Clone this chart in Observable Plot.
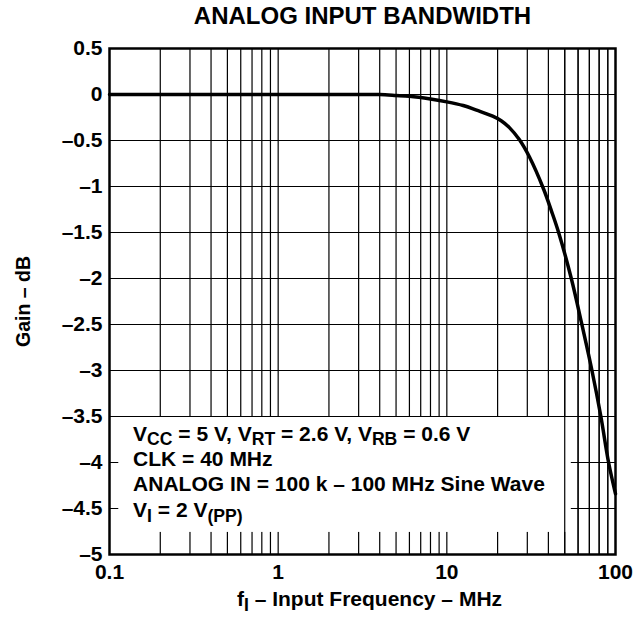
<!DOCTYPE html>
<html><head><meta charset="utf-8">
<script src="https://cdn.jsdelivr.net/npm/d3@7"></script>
<script src="https://cdn.jsdelivr.net/npm/@observablehq/plot@0.6"></script>
<style>body{margin:0;background:#fff}</style>
</head><body><div id="chart"></div>
<script>
const freqMHz = [0.1, 1, 2, 3, 4, 5, 6, 8, 10, 12.5, 15, 18.7, 21, 23.5, 26.9, 30.9, 37.5, 41.6, 46, 54.7, 63.2, 72.5, 81.9, 91, 100];
const gainDB  = [0, 0, 0, 0, 0, -0.01, -0.02, -0.05, -0.08, -0.12, -0.17, -0.235, -0.285, -0.36, -0.49, -0.68, -1.03, -1.26, -1.5, -2.0, -2.5, -3.0, -3.5, -4.0, -4.34];
const xTickValues = [0.1, 1, 10, 100];
const xTickLabels = ["0.1", "1", "10", "100"];
const yTickValues = [0.5, 0, -0.5, -1, -1.5, -2, -2.5, -3, -3.5, -4, -4.5, -5];
const yTickLabels = ["0.5", "0", "–0.5", "–1", "–1.5", "–2", "–2.5", "–3", "–3.5", "–4", "–4.5", "–5"];
const xGridValues = [0.2, 0.3, 0.4, 0.5, 0.6, 0.7, 0.8, 0.9, 1, 2, 3, 4, 5, 6, 7, 8, 9, 10, 20, 30, 40, 50, 60, 70, 80, 90];
const yGridValues = [0, -0.5, -1, -1.5, -2, -2.5, -3, -3.5, -4, -4.5];
const noteLines = ["V_{CC} = 5 V, V_{RT} = 2.6 V, V_{RB} = 0.6 V", "CLK = 40 MHz", "ANALOG IN = 100 k – 100 MHz Sine Wave", "V_{I} = 2 V_{(PP)}"];
const noteGains = [-3.69, -3.97, -4.24, -4.52];
const titleText = "ANALOG INPUT BANDWIDTH";
const xTitle = "f_{I} – Input Frequency – MHz";
const yTitle = "Gain – dB";

const curve = freqMHz.map((f, i) => ({f, g: gainDB[i]}));
const noteBox = [{x1: 0.1135, x2: 54.7, y1: -3.5, y2: -4.76}];
const font = "'Liberation Sans', Arial, Helvetica, sans-serif";

const chart = Plot.plot({
  width: 640, height: 621,
  marginLeft: 109, marginRight: 25, marginTop: 48, marginBottom: 67,
  style: {fontFamily: font, fontWeight: "bold", fontSize: "20px", background: "#fff", color: "#000"},
  x: {type: "log", domain: [0.1, 100]},
  y: {domain: [-5, 0.5]},
  marks: [
    Plot.ruleX(xGridValues, {stroke: "#000", strokeWidth: 1.2}),
    Plot.ruleY(yGridValues, {stroke: "#000", strokeWidth: 1.2}),
    Plot.rect(noteBox, {x1: "x1", x2: "x2", y1: "y1", y2: "y2", fill: "#fff"}),
    Plot.ruleY([-3.5], {stroke: "#000", strokeWidth: 1.2}),
    Plot.ruleX(xGridValues.filter(v => v >= 50), {stroke: "#000", strokeWidth: 1.2}),
    Plot.line(curve, {x: "f", y: "g", stroke: "#000", strokeWidth: 3.5, curve: "catmull-rom"}),
    Plot.frame({stroke: "#000", strokeWidth: 2.5}),
    Plot.axisX(xTickValues, {tickFormat: d => xTickLabels[xTickValues.indexOf(d)], tickSize: 0, tickPadding: 10, fontSize: 21, fontWeight: "bold", label: null}),
    Plot.axisY(yTickValues, {tickFormat: d => yTickLabels[yTickValues.indexOf(d)], tickSize: 0, tickPadding: 7, fontSize: 21, fontWeight: "bold", label: null}),
    Plot.text(noteLines, {x: () => 0.138, y: (d, i) => noteGains[i], text: d => d, textAnchor: "start", lineAnchor: "middle", fontSize: 21, fontWeight: "bold", fill: "#000"}),
    Plot.text([titleText], {frameAnchor: "top", dy: -32, text: d => d, textAnchor: "middle", lineAnchor: "middle", fontSize: 24, fontWeight: "bold", fill: "#000"}),
    Plot.text([xTitle], {frameAnchor: "bottom", dx: 7, dy: 45, text: d => d, textAnchor: "middle", lineAnchor: "middle", fontSize: 21, fontWeight: "bold", fill: "#000"}),
    Plot.text([yTitle], {frameAnchor: "left", dx: -86, rotate: -90, text: d => d, textAnchor: "middle", lineAnchor: "middle", fontSize: 19.5, fontWeight: "bold", fill: "#000"})
  ]
});

d3.select(chart).selectAll("text").each(function() {
  const s = this.textContent;
  if (!s.includes("_{")) return;
  const el = d3.select(this);
  const size = parseFloat(el.attr("font-size")) || 20;
  el.text(null);
  const parts = s.split(/_\{([^}]*)\}/);
  let lowered = false;
  parts.forEach((p, i) => {
    if (!p) return;
    const t = el.append("tspan").text(p);
    if (i % 2 === 1) {
      t.attr("dy", lowered ? null : 4.5).attr("font-size", size * 0.88);
      lowered = true;
    } else if (lowered) {
      t.attr("dy", -4.5);
      lowered = false;
    }
  });
});

document.getElementById("chart").append(chart);
</script>
</body></html>
